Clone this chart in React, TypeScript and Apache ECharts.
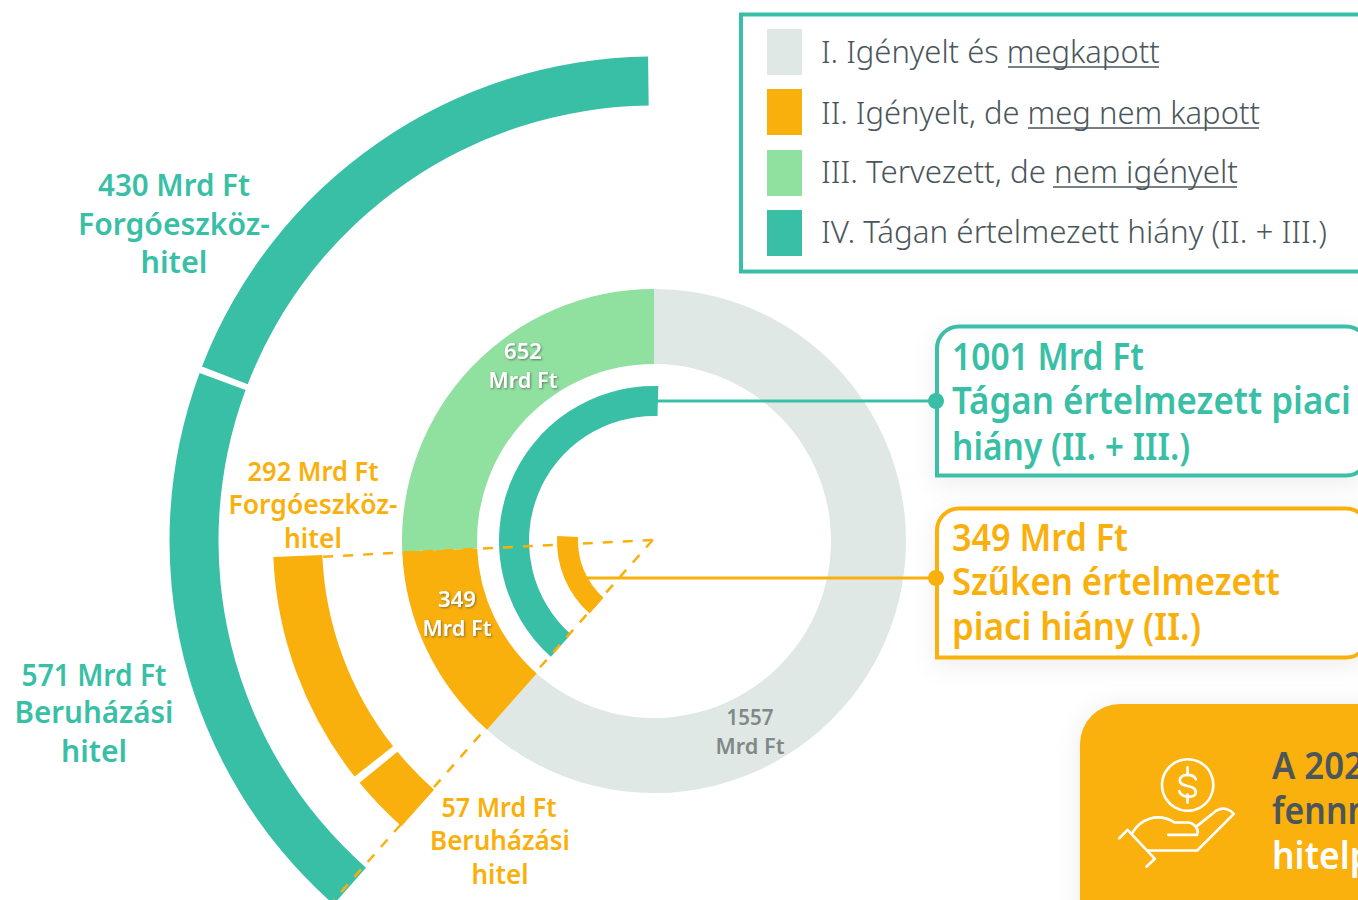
import React, { useEffect, useRef } from "react";
import * as echarts from "echarts";

// Colours
const TEAL = "#3ABFA7";
const ORANGE = "#FAB00C";
const GREEN = "#90E0A0";
const GREY = "#DFE8E5";
const INK = "#4A565B";

// Arc spans, in degrees, clockwise
const mainRingDeg = [221.5, 46.1, 92.4];
const innerTealDeg = [139.9];
const innerOrangeDeg = [51.4];
const outerOrangeDeg = [9.1, 1.2, 35.8];
const outerTealDeg = [68.9, 0.8, 68.2];

// Figures shown in the chart (Mrd Ft)
const mainRingValues = [1557, 349, 652];
const wideGap = 1001;
const narrowGap = 349;
const wideSplit = [430, 571];
const narrowSplit = [292, 57];

const legendLabels = [
  "I. Igényelt és megkapott",
  "II. Igényelt, de meg nem kapott",
  "III. Tervezett, de nem igényelt",
  "IV. Tágan értelmezett hiány (II. + III.)",
];
const cardLines = ["A 202", "fennm", "hitelp"];

const CX = 654;
const CY = 541;
const SANS = '"Noto Sans", sans-serif';

const measure = document.createElement("canvas").getContext("2d")!;

function label(
  text: string,
  x: number,
  y: number,
  size: number,
  weight: number,
  color: string,
  width: number,
  align: "left" | "center" = "center",
  extra: Record<string, unknown> = {},
) {
  measure.font = `${weight} ${size}px "Noto Sans"`;
  const w = measure.measureText(text).width || 1;
  return {
    type: "text",
    x,
    y: size >= 26 ? y - size * 0.02 : y - 1,
    scaleX: width / w,
    z: 20,
    silent: true,
    style: {
      text,
      x: 0,
      y: 0,
      fill: color,
      font: `${weight} ${size}px ${SANS}`,
      align,
      verticalAlign: "middle",
      ...extra,
    },
  };
}

function arcs(
  radius: [number, number],
  startClock: number,
  spans: number[],
  colors: string[],
) {
  const used = spans.reduce((a, b) => a + b, 0);
  const data = spans.map((value, i) => ({ value, itemStyle: { color: colors[i] } }));
  if (used < 360) data.push({ value: 360 - used, itemStyle: { color: "transparent" } });
  return {
    type: "pie",
    center: [CX, CY],
    radius,
    startAngle: 90 - startClock,
    clockwise: true,
    silent: true,
    animation: false,
    label: { show: false },
    labelLine: { show: false },
    emphasis: { disabled: true },
    data,
  };
}

function dashed(toX: number, toY: number) {
  return {
    type: "line",
    z: 15,
    silent: true,
    shape: { x1: 652.7, y1: 540, x2: toX, y2: toY },
    style: { stroke: ORANGE, lineWidth: 2.5, lineDash: [10, 10] },
  };
}

function callout(y: number, color: string) {
  return {
    type: "rect",
    z: 5,
    silent: true,
    shape: { x: 937, y, width: 431, height: 149, r: [22, 22, 22, 0] },
    style: {
      fill: "#fff",
      stroke: color,
      lineWidth: 4,
      shadowBlur: 24,
      shadowColor: "rgba(0,0,0,0.07)",
      shadowOffsetY: 6,
    },
  };
}

function connector(x1: number, y: number, color: string) {
  return [
    {
      type: "line",
      z: 6,
      silent: true,
      shape: { x1, y1: y, x2: 936, y2: y },
      style: { stroke: color, lineWidth: 3 },
    },
    {
      type: "circle",
      z: 7,
      silent: true,
      shape: { cx: 936, cy: y, r: 8 },
      style: { fill: color },
    },
  ];
}

function underline(x1: number, x2: number, y: number) {
  return {
    type: "line",
    z: 20,
    silent: true,
    shape: { x1, y1: y, x2, y2: y },
    style: { stroke: INK, lineWidth: 1.5 },
  };
}

const ringShadow = {
  textShadowColor: "rgba(60,60,60,0.6)",
  textShadowBlur: 2,
  textShadowOffsetX: 1,
  textShadowOffsetY: 1,
};

const HAND =
  "M178 445 L203 420 L285 507 L260 530 " +
  "M218 428 C240 390 290 365 345 398 L385 398 C405 400 418 420 412 435 L325 435 " +
  "M412 408 L470 362 C490 350 510 358 522 372 L412 482 L262 482 " +
  "M383 232 L383 256 M383 314 L383 338 " +
  "M408 268 C400 250 360 250 360 272 C360 296 408 280 408 308 C408 326 365 325 358 304";
echarts.graphic.registerShape("handIcon", echarts.graphic.extendPath(HAND, {}) as any);

export default function App() {
  const ref = useRef<HTMLDivElement>(null);

  useEffect(() => {
    document.body.style.margin = "0";
    document.body.style.overflow = "hidden";
    const chart = echarts.init(ref.current!, null, { renderer: "svg" });

    const mrd = (v: number) => `${v} Mrd Ft`;
    const swatchColors = [GREY, ORANGE, GREEN, TEAL];
    const swatchY = [29, 89, 150, 210];
    const legendY = [52, 113, 172, 232];
    const legendW = [339, 439, 417, 506];

    const graphic: any[] = [
      {
        type: "rect",
        z: 4,
        silent: true,
        shape: { x: 741, y: 14.5, width: 700, height: 257 },
        style: { fill: "#fff", stroke: TEAL, lineWidth: 4 },
      },
      ...swatchColors.map((fill, i) => ({
        type: "rect",
        z: 5,
        silent: true,
        shape: { x: 767, y: swatchY[i], width: 35, height: 46 },
        style: { fill },
      })),
      ...legendLabels.map((t, i) =>
        label(t, 821, legendY[i], 31, 300, INK, legendW[i], "left"),
      ),
      underline(1008, 1159, 67),
      underline(1028, 1259, 128),
      underline(1053, 1237, 187),

      callout(326.5, TEAL),
      callout(508.5, ORANGE),
      ...connector(656, 401, TEAL),
      ...connector(585, 578, ORANGE),
      label(mrd(wideGap), 952, 356, 37, 600, TEAL, 192, "left"),
      label("Tágan értelmezett piaci", 952, 401, 37, 600, TEAL, 399, "left"),
      label("hiány (II. + III.)", 952, 446, 37, 600, TEAL, 238, "left"),
      label(mrd(narrowGap), 952, 537, 37, 600, ORANGE, 176, "left"),
      label("Szűken értelmezett", 952, 582, 37, 600, ORANGE, 328, "left"),
      label("piaci hiány (II.)", 952, 627, 37, 600, ORANGE, 249, "left"),

      {
        type: "rect",
        z: 5,
        silent: true,
        shape: { x: 1080, y: 704, width: 420, height: 300, r: 40 },
        style: {
          fill: ORANGE,
          shadowBlur: 24,
          shadowColor: "rgba(0,0,0,0.08)",
          shadowOffsetY: 2,
        },
      },
      {
        type: "circle",
        z: 6,
        silent: true,
        shape: { cx: 1187.7, cy: 785, r: 25.7 },
        style: { fill: "none", stroke: "#fff", lineWidth: 2.6 },
      },
      {
        type: "handIcon",
        z: 6,
        silent: true,
        x: 1060,
        y: 690,
        scaleX: 1 / 3,
        scaleY: 1 / 3,
        style: { fill: "none", stroke: "#fff", lineWidth: 8, lineCap: "round", lineJoin: "round" },
      },
      label(cardLines[0], 1272, 766, 37, 600, INK, 92, "left"),
      label(cardLines[1], 1272, 810, 37, 600, INK, 108, "left"),
      label(cardLines[2], 1272, 855, 37, 600, "#fff", 100, "left"),

      dashed(322, 556.7),
      dashed(334, 900),

      label(mrd(wideSplit[0]), 174, 185, 30, 600, TEAL, 152),
      label("Forgóeszköz-", 174, 224, 30, 600, TEAL, 192),
      label("hitel", 174, 262, 30, 600, TEAL, 67),
      label(mrd(wideSplit[1]), 94, 675, 30, 600, TEAL, 145),
      label("Beruházási", 94, 712, 30, 600, TEAL, 159),
      label("hitel", 94, 751, 30, 600, TEAL, 66),
      label(mrd(narrowSplit[0]), 313, 471, 27, 600, ORANGE, 131),
      label("Forgóeszköz-", 313, 504, 27, 600, ORANGE, 169),
      label("hitel", 313, 538, 27, 600, ORANGE, 58),
      label(mrd(narrowSplit[1]), 499, 807, 27, 600, ORANGE, 115),
      label("Beruházási", 500, 840, 27, 600, ORANGE, 140),
      label("hitel", 500, 874, 27, 600, ORANGE, 57),

      label(String(mainRingValues[2]), 523, 351, 22, 600, "#fff", 38, "center", ringShadow),
      label("Mrd Ft", 523, 380, 22, 600, "#fff", 69, "center", ringShadow),
      label(String(mainRingValues[1]), 457, 599, 22, 600, "#fff", 38, "center", ringShadow),
      label("Mrd Ft", 457, 628, 22, 600, "#fff", 69, "center", ringShadow),
      label(String(mainRingValues[0]), 750, 717, 22, 600, "#808888", 47),
      label("Mrd Ft", 750, 746, 22, 600, "#808888", 69),
    ];

    chart.setOption({
      animation: false,
      backgroundColor: "#fff",
      series: [
        arcs([177, 252], 0, mainRingDeg, [GREY, ORANGE, GREEN]),
        arcs([125, 155], 221.7, innerTealDeg, [TEAL]),
        arcs([76, 97], 221.6, innerOrangeDeg, [ORANGE]),
        arcs([332, 381], 221.5, outerOrangeDeg, [ORANGE, "transparent", ORANGE]),
        arcs([435.5, 484.5], 221.4, outerTealDeg, [TEAL, "transparent", TEAL]),
      ],
      graphic,
    });

    return () => chart.dispose();
  }, []);

  return <div ref={ref} style={{ width: 1358, height: 900 }} />;
}
